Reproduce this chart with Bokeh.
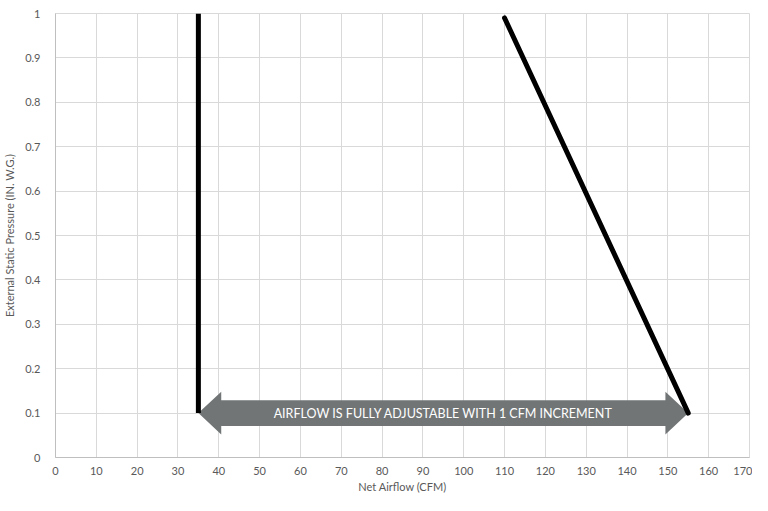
from bokeh.plotting import figure
from bokeh.models import FixedTicker, CustomJSTickFormatter, Range1d
from bokeh.core.properties import value
from bokeh.embed import file_html
from bokeh.resources import INLINE

# ---- data ----
x_ticks = [0, 10, 20, 30, 40, 50, 60, 70, 80, 90, 100, 110, 120, 130, 140, 150, 160, 170]
y_ticks = [0, 0.1, 0.2, 0.3, 0.4, 0.5, 0.6, 0.7, 0.8, 0.9, 1.0]

min_flow_x = [35, 35]
min_flow_y = [0.1, 1.0]

max_flow_x = [110, 155]
max_flow_y = [0.99, 0.1]

arrow_start = 35
arrow_end = 155
arrow_level = 0.1
arrow_text = "AIRFLOW IS FULLY ADJUSTABLE WITH 1 CFM INCREMENT"

FONT = "Lato"
GRID = "#d9d9d9"
TXT = "#595959"
ARROW = "#717576"

p = figure(width=752, height=495, output_backend="svg", toolbar_location=None,
           x_range=Range1d(0, 170), y_range=Range1d(0, 1),
           min_border_left=46, min_border_right=3, min_border_top=13, min_border_bottom=10)
p.outline_line_color = GRID
p.background_fill_color = "white"
p.border_fill_color = "white"

p.xaxis.ticker = FixedTicker(ticks=x_ticks)
p.yaxis.ticker = FixedTicker(ticks=y_ticks)
p.yaxis.formatter = CustomJSTickFormatter(code="return String(+tick.toFixed(1));")

for ax in (p.xaxis, p.yaxis):
    ax.major_tick_line_color = None
    ax.minor_tick_line_color = None
    ax.axis_line_color = "#bfbfbf"
    ax.major_label_text_font = FONT
    ax.major_label_text_font_size = "11px"
    ax.major_label_text_color = TXT
    ax.axis_label_text_font = FONT
    ax.axis_label_text_font_size = "11px"
    ax.axis_label_text_color = TXT
    ax.axis_label_text_font_style = "normal"

p.xaxis.axis_label = "Net Airflow (CFM)"
p.yaxis.axis_label = "External Static Pressure (IN. W.G.)"
p.xaxis.major_label_standoff = 3
p.xaxis.axis_label_standoff = 2
p.yaxis.major_label_standoff = 9
p.yaxis.axis_label_standoff = 6

p.xgrid.grid_line_color = GRID
p.ygrid.grid_line_color = GRID

# double-headed arrow shape derived from arrow_start/arrow_end
head_len = 5.6
head_half = 0.048
body_half = 0.029
x0, x1, yc = arrow_start, arrow_end, arrow_level
ax_pts = [x0, x0 + head_len, x0 + head_len, x1 - head_len, x1 - head_len, x1,
          x1 - head_len, x1 - head_len, x0 + head_len, x0 + head_len]
ay_pts = [yc, yc + head_half, yc + body_half, yc + body_half, yc + head_half, yc,
          yc - head_half, yc - body_half, yc - body_half, yc - head_half]
p.patch(ax_pts, ay_pts, fill_color=ARROW, line_color=None)

p.text(x=[(x0 + x1) / 2], y=[yc], text=[arrow_text], text_align="center",
       text_baseline="middle", text_color="white", text_font=value(FONT),
       text_font_size="12.5px")

p.line(min_flow_x, min_flow_y, line_color="black", line_width=5)
p.line(max_flow_x, max_flow_y, line_color="black", line_width=5, line_cap="round")

open("out.html", "w").write(file_html(p, INLINE))
